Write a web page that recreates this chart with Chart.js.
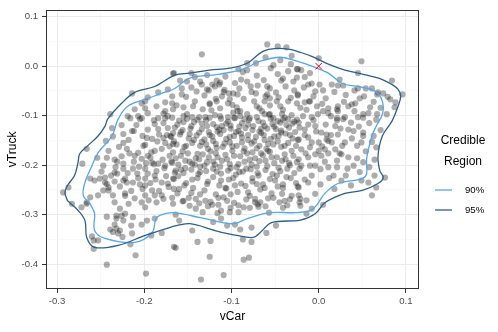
<!DOCTYPE html>
<html>
<head>
<meta charset="utf-8">
<script src="https://cdn.jsdelivr.net/npm/chart.js@4/dist/chart.umd.min.js"></script>
<style>
  html, body { margin: 0; padding: 0; background: #fff; }
  #wrap { width: 498px; height: 332px; }
</style>
</head>
<body>
<div id="wrap"><canvas id="chart"></canvas></div>
<script>
// posterior draws (vCar, vTruck)
const draws = [
  [-0.167,-0.015],[-0.214,-0.055],[-0.184,-0.053],[-0.173,-0.047],[-0.199,-0.071],[-0.196,-0.063],[-0.203,-0.075],[-0.211,-0.087],
  [-0.199,-0.085],[-0.196,-0.095],[-0.239,-0.097],[-0.207,-0.101],[-0.203,-0.105],[-0.219,-0.101],[-0.176,-0.091],[-0.167,-0.087],
  [-0.168,-0.075],[-0.173,-0.101],[-0.184,-0.105],[-0.176,-0.105],
  [-0.059,0.044],[-0.047,0.040],[-0.037,0.038],[-0.134,0.024],[-0.166,-0.014],[-0.146,-0.014],[-0.082,0.006],[-0.072,0.006],
  [-0.052,0.002],[-0.032,0.004],[-0.035,-0.010],[-0.025,-0.006],[-0.082,-0.008],[-0.159,-0.029],[-0.136,-0.031],[-0.134,-0.037],
  [-0.117,-0.029],[-0.113,-0.033],[-0.122,-0.037],[-0.114,-0.037],[-0.089,-0.027],[-0.082,-0.031],[-0.070,-0.039],[-0.059,-0.041],
  [-0.056,-0.045],[-0.043,-0.029],[-0.041,-0.025],[-0.025,-0.023],[-0.157,-0.045],[-0.140,-0.051],[-0.126,-0.049],[-0.091,-0.045],
  [-0.111,-0.061],[-0.103,-0.055],[-0.098,-0.055],[-0.093,-0.057],[-0.157,-0.057],[-0.155,-0.083],[-0.142,-0.071],[-0.125,-0.075],
  [-0.117,-0.071],[-0.104,-0.075],[-0.102,-0.067],[-0.072,-0.055],[-0.059,-0.057],[-0.056,-0.065],[-0.062,-0.071],[-0.056,-0.079],
  [-0.048,-0.071],[-0.044,-0.081],[-0.035,-0.071],[-0.024,-0.057],[-0.025,-0.075],[-0.133,-0.087],[-0.125,-0.077],[-0.113,-0.085],
  [-0.094,-0.083],[-0.090,-0.091],[-0.071,-0.081],[-0.082,-0.097],[-0.079,-0.105],[-0.065,-0.091],[-0.062,-0.097],[-0.056,-0.097],
  [-0.052,-0.105],[-0.042,-0.097],[-0.035,-0.107],[-0.155,-0.101],[-0.145,-0.103],[-0.130,-0.103],[-0.113,-0.101],[-0.104,-0.103],
  [-0.096,-0.105],[-0.090,-0.101],
  [0.000,0.016],[0.049,0.010],[-0.024,-0.006],[-0.020,-0.008],[-0.010,-0.014],[0.045,-0.014],[0.084,-0.029],[0.096,-0.057],
  [0.001,-0.037],[-0.012,-0.037],[-0.008,-0.035],[0.015,-0.037],[0.022,-0.039],[0.028,-0.039],[0.024,-0.027],[0.045,-0.045],
  [0.054,-0.045],[0.061,-0.045],[-0.004,-0.051],[0.005,-0.049],[0.067,-0.057],[0.074,-0.055],[0.082,-0.067],[0.088,-0.073],
  [0.047,-0.065],[0.038,-0.077],[0.042,-0.075],[0.034,-0.081],[0.022,-0.081],[0.022,-0.091],[0.011,-0.085],[0.005,-0.091],
  [-0.002,-0.081],[-0.010,-0.071],[-0.016,-0.073],[-0.024,-0.059],[-0.001,-0.097],[0.011,-0.095],[0.057,-0.095],[0.051,-0.097],
  [0.067,-0.097],[0.030,-0.103],[0.021,-0.105],[-0.008,-0.103],[-0.018,-0.101],[0.045,-0.103],
  [-0.266,-0.167],[-0.271,-0.197],[-0.287,-0.245],[-0.293,-0.255],[-0.266,-0.275],[-0.254,-0.185],[-0.243,-0.185],[-0.234,-0.189],
  [-0.247,-0.201],[-0.245,-0.225],[-0.251,-0.227],[-0.262,-0.227],[-0.257,-0.231],[-0.245,-0.235],[-0.241,-0.245],[-0.247,-0.251],
  [-0.234,-0.215],[-0.231,-0.217],[-0.224,-0.197],[-0.224,-0.207],[-0.222,-0.227],[-0.220,-0.235],[-0.224,-0.231],[-0.213,-0.235],
  [-0.234,-0.233],[-0.213,-0.207],[-0.208,-0.217],[-0.211,-0.181],[-0.224,-0.155],[-0.220,-0.167],[-0.237,-0.125],[-0.224,-0.137],
  [-0.214,-0.131],[-0.205,-0.107],[-0.216,-0.105],[-0.197,-0.145],[-0.191,-0.147],[-0.199,-0.159],[-0.207,-0.175],[-0.196,-0.181],
  [-0.188,-0.171],[-0.180,-0.167],[-0.176,-0.155],[-0.167,-0.157],[-0.170,-0.141],[-0.178,-0.145],[-0.184,-0.127],[-0.188,-0.117],
  [-0.178,-0.115],[-0.173,-0.125],[-0.167,-0.135],[-0.203,-0.187],[-0.191,-0.195],[-0.184,-0.197],[-0.176,-0.201],[-0.168,-0.195],
  [-0.199,-0.207],[-0.196,-0.217],[-0.188,-0.221],[-0.180,-0.235],[-0.173,-0.237],[-0.167,-0.227],[-0.165,-0.215],[-0.199,-0.241],
  [-0.191,-0.251],[-0.199,-0.261],[-0.188,-0.261],[-0.180,-0.261],[-0.222,-0.257],[-0.236,-0.261],[-0.241,-0.251],[-0.253,-0.261],
  [-0.262,-0.265],[-0.199,-0.227],
  [-0.168,-0.104],[-0.160,-0.110],[-0.151,-0.106],[-0.143,-0.113],[-0.137,-0.103],[-0.129,-0.109],[-0.121,-0.117],[-0.112,-0.106],
  [-0.104,-0.112],[-0.097,-0.104],[-0.088,-0.115],[-0.080,-0.108],[-0.071,-0.103],[-0.064,-0.114],[-0.055,-0.106],[-0.047,-0.111],
  [-0.039,-0.104],[-0.030,-0.116],[-0.025,-0.108],[-0.165,-0.124],[-0.156,-0.129],[-0.146,-0.121],[-0.134,-0.127],[-0.126,-0.133],
  [-0.117,-0.123],[-0.109,-0.129],[-0.101,-0.120],[-0.092,-0.131],[-0.084,-0.125],[-0.075,-0.121],[-0.068,-0.132],[-0.059,-0.126],
  [-0.051,-0.122],[-0.043,-0.130],[-0.034,-0.124],[-0.027,-0.133],[-0.169,-0.143],[-0.159,-0.138],[-0.149,-0.146],[-0.140,-0.140],
  [-0.131,-0.148],[-0.122,-0.142],[-0.113,-0.137],[-0.106,-0.147],[-0.097,-0.141],[-0.089,-0.136],[-0.081,-0.149],[-0.072,-0.143],
  [-0.063,-0.139],[-0.055,-0.147],[-0.046,-0.141],[-0.038,-0.136],[-0.030,-0.146],[-0.163,-0.158],[-0.154,-0.163],[-0.145,-0.155],
  [-0.136,-0.161],[-0.127,-0.167],[-0.118,-0.157],[-0.110,-0.163],[-0.102,-0.154],[-0.094,-0.161],[-0.085,-0.166],[-0.077,-0.156],
  [-0.068,-0.161],[-0.060,-0.167],[-0.052,-0.158],[-0.043,-0.163],[-0.035,-0.155],[-0.026,-0.161],
  [-0.167,-0.174],[-0.158,-0.181],[-0.150,-0.176],[-0.141,-0.186],[-0.133,-0.178],[-0.124,-0.172],[-0.116,-0.184],[-0.107,-0.179],
  [-0.099,-0.171],[-0.090,-0.182],[-0.082,-0.176],[-0.073,-0.186],[-0.064,-0.180],[-0.056,-0.173],[-0.048,-0.184],[-0.039,-0.178],
  [-0.031,-0.171],[-0.169,-0.193],[-0.161,-0.199],[-0.153,-0.191],[-0.145,-0.197],[-0.136,-0.203],[-0.128,-0.194],[-0.119,-0.199],
  [-0.111,-0.191],[-0.102,-0.198],[-0.094,-0.204],[-0.085,-0.193],[-0.077,-0.199],[-0.068,-0.192],[-0.059,-0.202],[-0.051,-0.196],
  [-0.042,-0.191],[-0.033,-0.200],[-0.025,-0.194],[-0.164,-0.211],[-0.155,-0.216],[-0.146,-0.209],[-0.138,-0.218],[-0.129,-0.212],
  [-0.121,-0.207],[-0.112,-0.217],[-0.104,-0.211],[-0.095,-0.219],[-0.087,-0.213],[-0.078,-0.208],[-0.070,-0.216],[-0.061,-0.210],
  [-0.053,-0.218],[-0.044,-0.212],[-0.036,-0.207],[-0.028,-0.216],
  [-0.166,-0.228],[-0.152,-0.236],[-0.139,-0.226],[-0.127,-0.233],[-0.114,-0.241],[-0.103,-0.229],[-0.089,-0.237],[-0.076,-0.226],
  [-0.064,-0.239],[-0.050,-0.231],[-0.037,-0.224],[-0.026,-0.236],[-0.160,-0.248],[-0.146,-0.256],[-0.131,-0.251],[-0.118,-0.259],
  [-0.106,-0.247],[-0.093,-0.254],[-0.079,-0.262],[-0.067,-0.249],[-0.054,-0.257],[-0.041,-0.246],[-0.031,-0.262],[-0.168,-0.266],
  [-0.155,-0.272],[-0.141,-0.268],[-0.124,-0.274],[-0.109,-0.265],[-0.097,-0.276],[-0.083,-0.269],[-0.070,-0.279],[-0.058,-0.267],
  [-0.045,-0.275],[-0.033,-0.269],
  [-0.023,-0.114],[-0.016,-0.128],[-0.012,-0.118],[-0.004,-0.121],[0.003,-0.134],[0.009,-0.138],[-0.023,-0.148],[-0.012,-0.144],
  [0.000,-0.154],[0.011,-0.151],[0.021,-0.109],[0.028,-0.107],[0.019,-0.121],[0.034,-0.128],[0.040,-0.131],[0.051,-0.134],
  [0.051,-0.104],[0.022,-0.138],[0.015,-0.154],[0.030,-0.154],[0.049,-0.154],[-0.020,-0.168],[-0.010,-0.164],[0.000,-0.171],
  [0.007,-0.168],[0.019,-0.168],[0.026,-0.178],[0.034,-0.184],[0.040,-0.201],[0.051,-0.194],[0.066,-0.164],[0.063,-0.141],
  [-0.023,-0.188],[-0.012,-0.184],[-0.004,-0.178],[0.003,-0.181],[-0.020,-0.201],[-0.010,-0.201],[0.002,-0.208],[0.011,-0.204],
  [0.021,-0.204],[0.017,-0.221],[-0.012,-0.235],[0.026,-0.231],[0.049,-0.231],[0.057,-0.235],[0.066,-0.245],[0.076,-0.225],
  [0.061,-0.261],[-0.023,-0.245],[-0.021,-0.268],[-0.023,-0.261],[-0.004,-0.258],[-0.014,-0.271],
  [-0.283,-0.278],[-0.272,-0.285],[-0.266,-0.278],[-0.234,-0.275],[-0.218,-0.278],[-0.203,-0.275],[-0.199,-0.285],[-0.186,-0.275],
  [-0.228,-0.288],[-0.243,-0.304],[-0.232,-0.302],[-0.226,-0.302],[-0.222,-0.298],[-0.232,-0.308],[-0.213,-0.305],[-0.224,-0.312],
  [-0.215,-0.322],[-0.234,-0.320],[-0.239,-0.330],[-0.232,-0.328],[-0.228,-0.332],[-0.236,-0.335],[-0.230,-0.338],[-0.214,-0.338],
  [-0.203,-0.320],[-0.197,-0.312],[-0.188,-0.308],[-0.192,-0.342],[-0.180,-0.337],[-0.260,-0.344],[-0.258,-0.352],[-0.253,-0.352],
  [-0.258,-0.369],[-0.225,-0.345],[-0.216,-0.360],[-0.210,-0.382],[-0.243,-0.401],[-0.198,-0.419],[-0.166,-0.365],
  [-0.167,-0.278],[-0.156,-0.273],[-0.148,-0.282],[-0.137,-0.277],[-0.130,-0.272],[-0.122,-0.280],[-0.115,-0.280],[-0.105,-0.272],
  [-0.101,-0.286],[-0.102,-0.295],[-0.092,-0.295],[-0.086,-0.285],[-0.079,-0.286],[-0.069,-0.284],[-0.067,-0.275],[-0.073,-0.275],
  [-0.039,-0.272],[-0.041,-0.286],[-0.164,-0.300],[-0.133,-0.295],[-0.116,-0.297],[-0.112,-0.308],[-0.121,-0.315],[-0.105,-0.322],
  [-0.096,-0.320],[-0.090,-0.330],[-0.077,-0.326],[-0.060,-0.337],[-0.049,-0.322],[-0.160,-0.312],[-0.145,-0.332],[-0.139,-0.355],
  [-0.124,-0.353],[-0.087,-0.350],[-0.077,-0.355],[-0.164,-0.367],[-0.125,-0.385],[-0.086,-0.391],[-0.080,-0.387],[-0.135,-0.431],
  [-0.109,-0.422],
  [-0.022,-0.275],[-0.021,-0.282],[-0.008,-0.288],[0.005,-0.280],[-0.014,-0.298],
  [-0.236,-0.142],[-0.229,-0.163],[-0.241,-0.171],[-0.218,-0.149],[-0.226,-0.182],[-0.212,-0.193],[-0.233,-0.204],[-0.219,-0.216],
  [-0.207,-0.226],[-0.228,-0.243],[-0.215,-0.252],[-0.202,-0.248],[-0.193,-0.236],[-0.186,-0.212],[-0.179,-0.189],[-0.192,-0.174],
  [-0.201,-0.161],[-0.185,-0.152],[-0.174,-0.139],[-0.196,-0.128],[-0.209,-0.119],[-0.189,-0.109],[-0.178,-0.096],[-0.226,-0.119],
  [-0.244,-0.151],[-0.249,-0.213],[-0.238,-0.221],[-0.211,-0.267],[-0.195,-0.271],[-0.183,-0.252],[-0.172,-0.244],[-0.177,-0.206],
  [-0.171,-0.181],[-0.206,-0.203],[-0.217,-0.176],[-0.198,-0.196],[-0.187,-0.229],[-0.205,-0.239],[-0.222,-0.262],[-0.171,-0.162],
  [-0.183,-0.138],[-0.202,-0.141],[-0.231,-0.193],[-0.243,-0.238],[-0.178,-0.268],[-0.193,-0.185],[-0.212,-0.131],[-0.189,-0.198],
  [-0.175,-0.222],[-0.166,-0.248],
  [-0.152,-0.062],[-0.144,-0.081],[-0.131,-0.059],[-0.123,-0.089],[-0.108,-0.048],[-0.099,-0.078],[-0.086,-0.066],[-0.077,-0.052],
  [-0.068,-0.085],[-0.061,-0.061],[-0.049,-0.053],[-0.041,-0.088],[-0.032,-0.064],[-0.021,-0.084],[-0.163,-0.079],[-0.118,-0.066],
  [-0.093,-0.091],[-0.074,-0.071],[-0.046,-0.063],[-0.028,-0.049],
  [-0.162,-0.118],[-0.151,-0.097],[-0.147,-0.126],[-0.139,-0.108],[-0.128,-0.121],[-0.119,-0.099],[-0.114,-0.128],[-0.106,-0.116],
  [-0.098,-0.094],[-0.091,-0.122],[-0.085,-0.107],[-0.076,-0.129],[-0.069,-0.111],[-0.062,-0.121],[-0.057,-0.098],[-0.049,-0.127],
  [-0.044,-0.114],[-0.037,-0.119],[-0.031,-0.099],[-0.022,-0.124],[-0.155,-0.113],[-0.134,-0.116],[-0.125,-0.104],[-0.101,-0.126],
  [-0.081,-0.118],[-0.066,-0.126],[-0.053,-0.117],[-0.041,-0.108],[-0.028,-0.112],[-0.111,-0.121],
  [-0.166,-0.152],[-0.158,-0.133],[-0.152,-0.161],[-0.143,-0.149],[-0.137,-0.134],[-0.129,-0.158],[-0.121,-0.151],[-0.116,-0.132],
  [-0.108,-0.156],[-0.102,-0.143],[-0.095,-0.133],[-0.088,-0.154],[-0.081,-0.139],[-0.074,-0.152],[-0.066,-0.135],[-0.058,-0.157],
  [-0.051,-0.142],[-0.047,-0.152],[-0.039,-0.161],[-0.033,-0.139],[-0.024,-0.149],[-0.148,-0.137],[-0.125,-0.139],[-0.099,-0.162],
  [-0.071,-0.166],[-0.062,-0.149],[-0.043,-0.134],[-0.117,-0.165],[-0.134,-0.153],[-0.088,-0.144],
  [-0.164,-0.186],[-0.156,-0.172],[-0.148,-0.193],[-0.139,-0.177],[-0.131,-0.201],[-0.126,-0.184],[-0.118,-0.176],[-0.113,-0.203],
  [-0.105,-0.188],[-0.097,-0.181],[-0.092,-0.198],[-0.086,-0.172],[-0.079,-0.189],[-0.071,-0.203],[-0.066,-0.176],[-0.061,-0.191],
  [-0.054,-0.184],[-0.046,-0.205],[-0.038,-0.188],[-0.029,-0.181],[-0.022,-0.207],[-0.153,-0.206],[-0.142,-0.199],[-0.121,-0.193],
  [-0.101,-0.206],[-0.083,-0.207],[-0.058,-0.171],[-0.034,-0.196],[-0.137,-0.188],[-0.076,-0.174],
  [-0.161,-0.222],[-0.154,-0.241],[-0.145,-0.229],[-0.136,-0.214],[-0.128,-0.238],[-0.121,-0.224],[-0.112,-0.231],[-0.107,-0.246],
  [-0.098,-0.226],[-0.091,-0.214],[-0.084,-0.242],[-0.076,-0.233],[-0.069,-0.221],[-0.062,-0.246],[-0.056,-0.228],[-0.048,-0.221],
  [-0.041,-0.239],[-0.032,-0.226],[-0.024,-0.243],[-0.144,-0.246],[-0.117,-0.213],[-0.096,-0.241],[-0.071,-0.238],[-0.047,-0.243],
  [-0.158,-0.209],
  [-0.162,-0.257],[-0.149,-0.266],[-0.136,-0.259],[-0.127,-0.283],[-0.115,-0.266],[-0.101,-0.259],[-0.092,-0.281],[-0.081,-0.255],
  [-0.073,-0.268],[-0.061,-0.283],[-0.052,-0.266],[-0.042,-0.258],[-0.036,-0.281],[-0.141,-0.288],[-0.112,-0.292],[-0.057,-0.296],
  [-0.017,-0.043],[-0.006,-0.061],[0.008,-0.065],[0.018,-0.052],[0.031,-0.058],[0.052,-0.061],[0.063,-0.072],[0.071,-0.084],
  [0.078,-0.097],[0.059,-0.083],[0.041,-0.091],[0.029,-0.072],[0.014,-0.101],[0.004,-0.076],[-0.014,-0.088],[-0.006,-0.109],
  [0.008,-0.118],[0.025,-0.126],[0.037,-0.114],[0.046,-0.122],[0.058,-0.115],[0.066,-0.108],[0.071,-0.129],[0.061,-0.153],
  [0.054,-0.172],[0.044,-0.161],[0.038,-0.146],[0.027,-0.161],[0.014,-0.139],[0.004,-0.162],[-0.008,-0.154],[-0.016,-0.139],
  [-0.003,-0.132],[0.011,-0.176],[0.021,-0.191],[0.033,-0.207],[0.044,-0.186],[0.058,-0.204],[0.064,-0.221],[0.047,-0.214],
  [0.031,-0.221],[0.012,-0.226],[0.002,-0.239],[-0.008,-0.221],[-0.016,-0.229],[0.018,-0.248],[0.037,-0.241],[0.007,-0.193],
  [-0.004,-0.201],[-0.015,-0.176],[0.079,-0.062],[0.087,-0.083],[0.068,-0.053],[0.041,-0.049],[0.021,-0.087],[-0.011,-0.071],
  [0.051,-0.141],[0.064,-0.189],[0.024,-0.176],[0.009,-0.148],
  [-0.151,-0.031],[-0.142,-0.022],[-0.128,-0.018],[-0.119,-0.041],[-0.107,-0.021],[-0.096,-0.034],[-0.087,-0.012],[-0.078,-0.041],
  [-0.071,-0.019],[-0.063,-0.028],[-0.055,-0.004],[-0.047,-0.016],[-0.038,-0.041],[-0.029,-0.031],[-0.016,-0.022],[-0.061,0.018],
  [-0.044,0.012],[-0.031,0.021],[-0.092,-0.006],[-0.109,-0.052],[-0.128,-0.047],[-0.146,-0.043],[-0.168,-0.061],[-0.176,-0.073],
  [-0.186,-0.081]
];

// 90% credible region outline
const region90 = [
  [-0.262,-0.278],[-0.270,-0.261],[-0.268,-0.235],[-0.260,-0.201],[-0.253,-0.175],[-0.237,-0.141],[-0.230,-0.107],[-0.219,-0.081],
  [-0.199,-0.067],[-0.180,-0.055],[-0.165,-0.045],[-0.148,-0.024],[-0.113,-0.016],[-0.087,-0.006],[-0.067,0.010],[-0.044,0.018],
  [-0.025,0.010],[-0.008,0.000],[0.011,-0.014],[0.027,-0.035],[0.045,-0.041],[0.065,-0.051],[0.073,-0.071],[0.073,-0.097],
  [0.066,-0.121],[0.061,-0.141],[0.055,-0.187],[0.055,-0.217],[0.050,-0.227],[0.022,-0.237],[0.007,-0.257],[-0.002,-0.280],
  [-0.010,-0.292],[-0.027,-0.296],[-0.056,-0.296],[-0.082,-0.308],[-0.096,-0.318],[-0.110,-0.316],[-0.136,-0.306],[-0.165,-0.296],
  [-0.176,-0.298],[-0.186,-0.306],[-0.191,-0.336],[-0.211,-0.356],[-0.245,-0.348],[-0.257,-0.332],[-0.257,-0.298],[-0.262,-0.278]
];

// 95% credible region outline
const region95 = [
  [-0.288,-0.272],[-0.291,-0.255],[-0.288,-0.241],[-0.280,-0.221],[-0.276,-0.195],[-0.274,-0.177],[-0.265,-0.161],[-0.253,-0.141],
  [-0.245,-0.121],[-0.242,-0.107],[-0.226,-0.075],[-0.211,-0.053],[-0.188,-0.041],[-0.165,-0.018],[-0.148,-0.014],[-0.125,-0.008],
  [-0.102,-0.004],[-0.082,0.006],[-0.064,0.030],[-0.048,0.036],[-0.033,0.034],[-0.021,0.028],[-0.008,0.020],[0.011,0.004],
  [0.030,-0.008],[0.050,-0.016],[0.073,-0.027],[0.084,-0.037],[0.091,-0.047],[0.094,-0.061],[0.091,-0.081],[0.084,-0.111],
  [0.073,-0.141],[0.068,-0.181],[0.070,-0.211],[0.074,-0.225],[0.068,-0.237],[0.050,-0.251],[0.030,-0.257],[0.007,-0.276],
  [-0.004,-0.298],[-0.021,-0.311],[-0.054,-0.316],[-0.067,-0.336],[-0.075,-0.346],[-0.094,-0.342],[-0.119,-0.332],[-0.148,-0.318],
  [-0.171,-0.326],[-0.199,-0.342],[-0.230,-0.362],[-0.257,-0.366],[-0.266,-0.346],[-0.268,-0.312],[-0.276,-0.291],[-0.288,-0.272]
];

const truth = [[0, 0]];
const regionLabels = ['90%', '95%'];
const regionColors = ['#56a7e9', '#2d5f8b'];

const toXY = arr => arr.map(p => ({ x: p[0], y: p[1] }));
const isMajor = v => Math.round(v * 100) % 10 === 0;

const panelBox = {
  id: 'panelBox',
  afterDatasetsDraw(chart) {
    const a = chart.chartArea, ctx = chart.ctx;
    ctx.save();
    ctx.strokeStyle = '#333333';
    ctx.lineWidth = 1;
    ctx.strokeRect(Math.round(a.left) + 0.5, Math.round(a.top) + 0.5, Math.round(a.right - a.left) - 1, Math.round(a.bottom - a.top) - 1);
    ctx.restore();
  }
};

const keyLegend = {
  id: 'keyLegend',
  afterDraw(chart) {
    const ctx = chart.ctx;
    ctx.save();
    ctx.fillStyle = '#000';
    ctx.font = '12px "Liberation Sans", Arial, sans-serif';
    ctx.textAlign = 'center';
    ctx.textBaseline = 'middle';
    ctx.fillText('Credible', 463, 141);
    ctx.fillText('Region', 463, 162);
    ctx.font = '9.6px "Liberation Sans", Arial, sans-serif';
    ctx.textAlign = 'left';
    regionLabels.forEach((lab, i) => {
      const y = 190 + i * 20;
      ctx.strokeStyle = regionColors[i];
      ctx.lineWidth = 1.3;
      ctx.beginPath();
      ctx.moveTo(435, y);
      ctx.lineTo(452, y);
      ctx.stroke();
      ctx.fillStyle = '#000';
      ctx.fillText(lab, 465, y);
    });
    ctx.restore();
  }
};

const tickFont = { family: '"Liberation Sans", Arial, sans-serif', size: 9.6 };
const titleFont = { family: '"Liberation Sans", Arial, sans-serif', size: 12 };

function gridOpts() {
  return {
    color: c => isMajor(c.tick.value) ? '#ebebeb' : '#f5f5f5',
    lineWidth: c => isMajor(c.tick.value) ? 1 : 0.6,
    tickColor: c => isMajor(c.tick.value) ? '#333333' : 'rgba(0,0,0,0)',
    tickLength: 4,
    tickWidth: 1
  };
}

new Chart(document.getElementById('chart'), {
  type: 'scatter',
  data: {
    datasets: [
      {
        label: 'truth',
        data: toXY(truth),
        pointStyle: 'crossRot',
        pointRadius: 4.5,
        borderColor: '#ff0000',
        borderWidth: 1,
        order: 0
      },
      {
        label: regionLabels[0],
        data: toXY(region90),
        showLine: true,
        tension: 0.35,
        pointRadius: 0,
        borderColor: regionColors[0],
        borderWidth: 1.3,
        order: 2
      },
      {
        label: regionLabels[1],
        data: toXY(region95),
        showLine: true,
        tension: 0.35,
        pointRadius: 0,
        borderColor: regionColors[1],
        borderWidth: 1.3,
        order: 1
      },
      {
        label: 'draws',
        data: toXY(draws),
        pointRadius: 3.1,
        backgroundColor: 'rgba(0,0,0,0.32)',
        borderWidth: 0,
        order: 3
      }
    ]
  },
  options: {
    responsive: true,
    maintainAspectRatio: false,
    animation: false,
    layout: { padding: { left: 5, right: 79, top: 8, bottom: 8 } },
    plugins: { legend: { display: false }, tooltip: { enabled: false } },
    scales: {
      x: {
        type: 'linear',
        min: -0.3127,
        max: 0.115,
        border: { display: false },
        grid: gridOpts(),
        ticks: {
          stepSize: 0.05,
          includeBounds: false,
          autoSkip: false,
          maxRotation: 0,
          padding: 3,
          color: '#4d4d4d',
          font: tickFont,
          callback: v => isMajor(v) ? (Math.round(v * 10) / 10).toFixed(1) : ''
        },
        title: { display: true, text: 'vCar', color: '#000', font: titleFont, padding: { top: 0, bottom: 0 } },
        afterFit: s => { s.height = 35; }
      },
      y: {
        type: 'linear',
        min: -0.4502,
        max: 0.114,
        border: { display: false },
        grid: gridOpts(),
        ticks: {
          stepSize: 0.05,
          includeBounds: false,
          autoSkip: false,
          padding: 4,
          color: '#4d4d4d',
          font: tickFont,
          callback: v => isMajor(v) ? (Math.round(v * 10) / 10).toFixed(1) : ''
        },
        title: { display: true, text: 'vTruck', color: '#000', font: titleFont, padding: { top: 0, bottom: 0 } },
        afterFit: s => { s.width = 41; }
      }
    }
  },
  plugins: [panelBox, keyLegend]
});
</script>
</body>
</html>
